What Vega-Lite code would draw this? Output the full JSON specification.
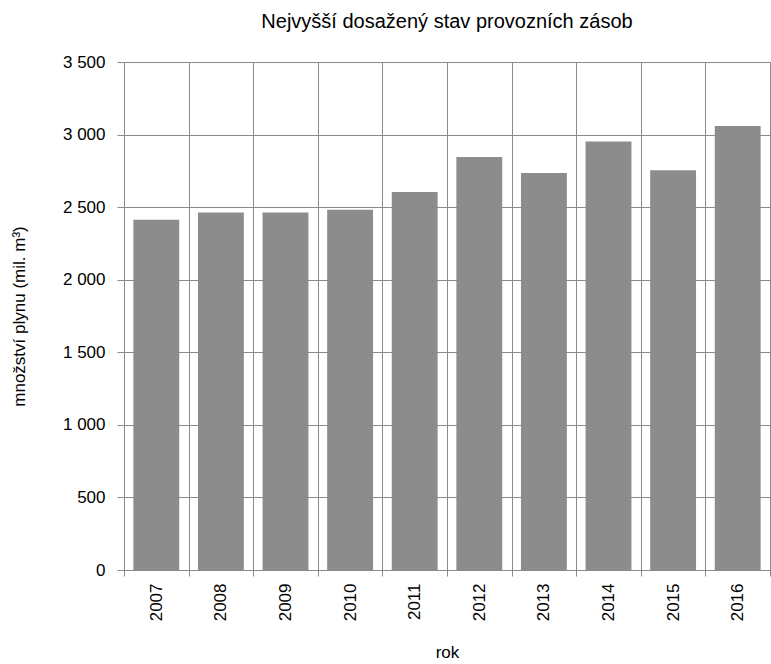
{
  "$schema": "https://vega.github.io/schema/vega-lite/v6.json",
  "width": 646,
  "height": 508,
  "autosize": {"type": "none"},
  "padding": {"left": 124, "top": 62, "right": 1, "bottom": 94},
  "background": "white",
  "title": {
    "text": "Nejvyšší dosažený stav provozních zásob",
    "font": "Liberation Sans",
    "fontSize": 20,
    "fontWeight": "normal",
    "color": "#000000",
    "anchor": "middle",
    "offset": 21
  },
  "config": {
    "view": {"stroke": "#8a8a8a", "strokeWidth": 1},
    "axis": {
      "labelFont": "Liberation Sans",
      "titleFont": "Liberation Sans",
      "labelColor": "#000000",
      "titleColor": "#000000",
      "gridColor": "#8a8a8a",
      "gridOpacity": 1,
      "gridWidth": 1,
      "domainColor": "#8a8a8a",
      "tickColor": "#8a8a8a",
      "titleFontWeight": "normal"
    }
  },
  "data": {
    "values": [
      {"rok": "2007", "value": 2413},
      {"rok": "2008", "value": 2463},
      {"rok": "2009", "value": 2463},
      {"rok": "2010", "value": 2482},
      {"rok": "2011", "value": 2604},
      {"rok": "2012", "value": 2845},
      {"rok": "2013", "value": 2735},
      {"rok": "2014", "value": 2953},
      {"rok": "2015", "value": 2755},
      {"rok": "2016", "value": 3059}
    ]
  },
  "mark": {"type": "bar", "color": "#8c8c8c", "width": {"band": 0.71}},
  "encoding": {
    "x": {
      "field": "rok",
      "type": "ordinal",
      "scale": {"paddingInner": 0, "paddingOuter": 0},
      "axis": {
        "title": "rok",
        "titleFontSize": 17,
        "titlePadding": 24,
        "labelAngle": -90,
        "labelFontSize": 17,
        "labelPadding": 7,
        "labelBaseline": "middle",
        "tickSize": 6,
        "tickBand": "extent",
        "grid": true,
        "bandPosition": 0,
        "zindex": 1,
        "domain": true
      }
    },
    "y": {
      "field": "value",
      "type": "quantitative",
      "scale": {"domain": [0, 3500], "nice": false},
      "axis": {
        "title": "množství plynu (mil. m³)",
        "titleFontSize": 17,
        "titlePadding": 34,
        "values": [0, 500, 1000, 1500, 2000, 2500, 3000, 3500],
        "labelExpr": "replace(format(datum.value, ','), ',', ' ')",
        "labelFontSize": 17,
        "labelPadding": 12,
        "tickSize": 7,
        "grid": true,
        "zindex": 1,
        "domain": true
      }
    }
  }
}
